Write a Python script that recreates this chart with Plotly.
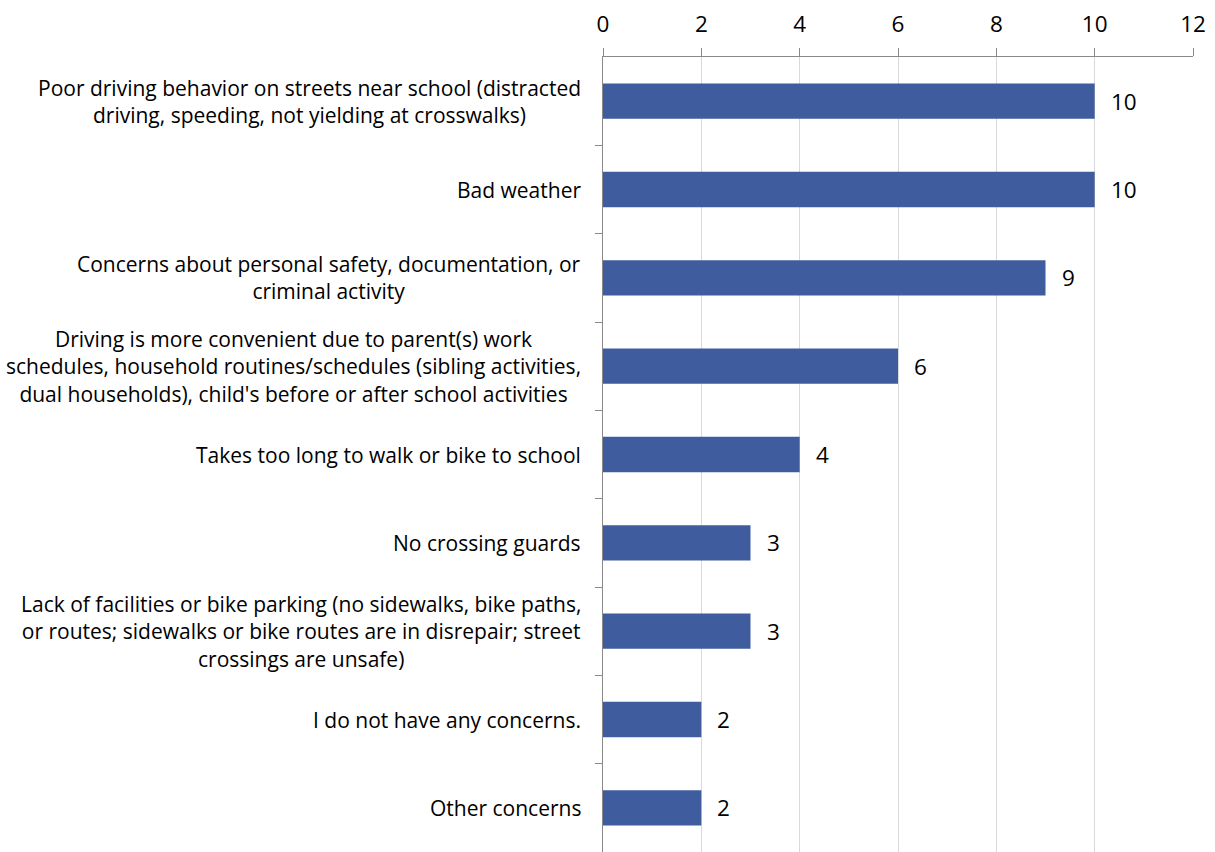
import plotly.graph_objects as go

categories = [
    "Poor driving behavior on streets near school (distracted<br>driving, speeding, not yielding at crosswalks)",
    "Bad weather",
    "Concerns about personal safety, documentation, or<br>criminal activity",
    "Driving is more convenient due to parent(s) work<br>schedules, household routines/schedules (sibling activities,<br>dual households), child's before or after school activities",
    "Takes too long to walk or bike to school",
    "No crossing guards",
    "Lack of facilities or bike parking (no sidewalks, bike paths,<br>or routes; sidewalks or bike routes are in disrepair; street<br>crossings are unsafe)",
    "I do not have any concerns.",
    "Other concerns",
]
counts = [10, 10, 9, 6, 4, 3, 3, 2, 2]
x_ticks = [0, 2, 4, 6, 8, 10, 12]

FONT = "Open Sans"
BAR_COLOR = "#3F5C9E"

fig = go.Figure()
fig.add_trace(go.Bar(
    y=list(range(len(categories))),
    x=counts,
    orientation="h",
    marker=dict(color=BAR_COLOR, line=dict(width=0)),
    width=0.4,
    hoverinfo="skip",
))

annotations = []
# value labels beside each bar
for i, v in enumerate(counts):
    annotations.append(dict(
        x=v, y=i, xref="x", yref="y", text=str(v), showarrow=False,
        xanchor="left", yanchor="middle", xshift=14,
        font=dict(family=FONT, size=22.5, color="#000000"),
    ))
# category labels, centred per line, right edge against the axis
for i, c in enumerate(categories):
    annotations.append(dict(
        x=0, y=i, xref="paper", yref="y", text=c, showarrow=False,
        xanchor="right", yanchor="middle", align="center", xshift=-20,
        font=dict(family=FONT, size=21, color="#000000"),
    ))

fig.update_layout(
    width=1215, height=852,
    margin=dict(l=603, r=22, t=57, b=0),
    paper_bgcolor="white", plot_bgcolor="white",
    showlegend=False,
    bargap=0.6,
    annotations=annotations,
    xaxis=dict(
        side="top", range=[0, 12], tickvals=x_ticks,
        ticktext=[str(t) for t in x_ticks],
        showgrid=True, gridcolor="#D9D9D9", gridwidth=1,
        showline=True, linecolor="#898989", linewidth=1,
        ticks="outside", ticklen=8, tickcolor="#898989",
        ticklabelstandoff=7,
        tickfont=dict(family=FONT, size=22.5, color="#000000"),
        zeroline=False, fixedrange=True,
    ),
    yaxis=dict(
        range=[len(categories) - 0.5, -0.5],
        tickvals=[i + 0.5 for i in range(len(categories))],
        showticklabels=False,
        ticks="outside", ticklen=7, tickcolor="#898989",
        showline=True, linecolor="#898989", linewidth=1,
        showgrid=False, zeroline=False, fixedrange=True,
    ),
)

fig.write_html("out.html")
